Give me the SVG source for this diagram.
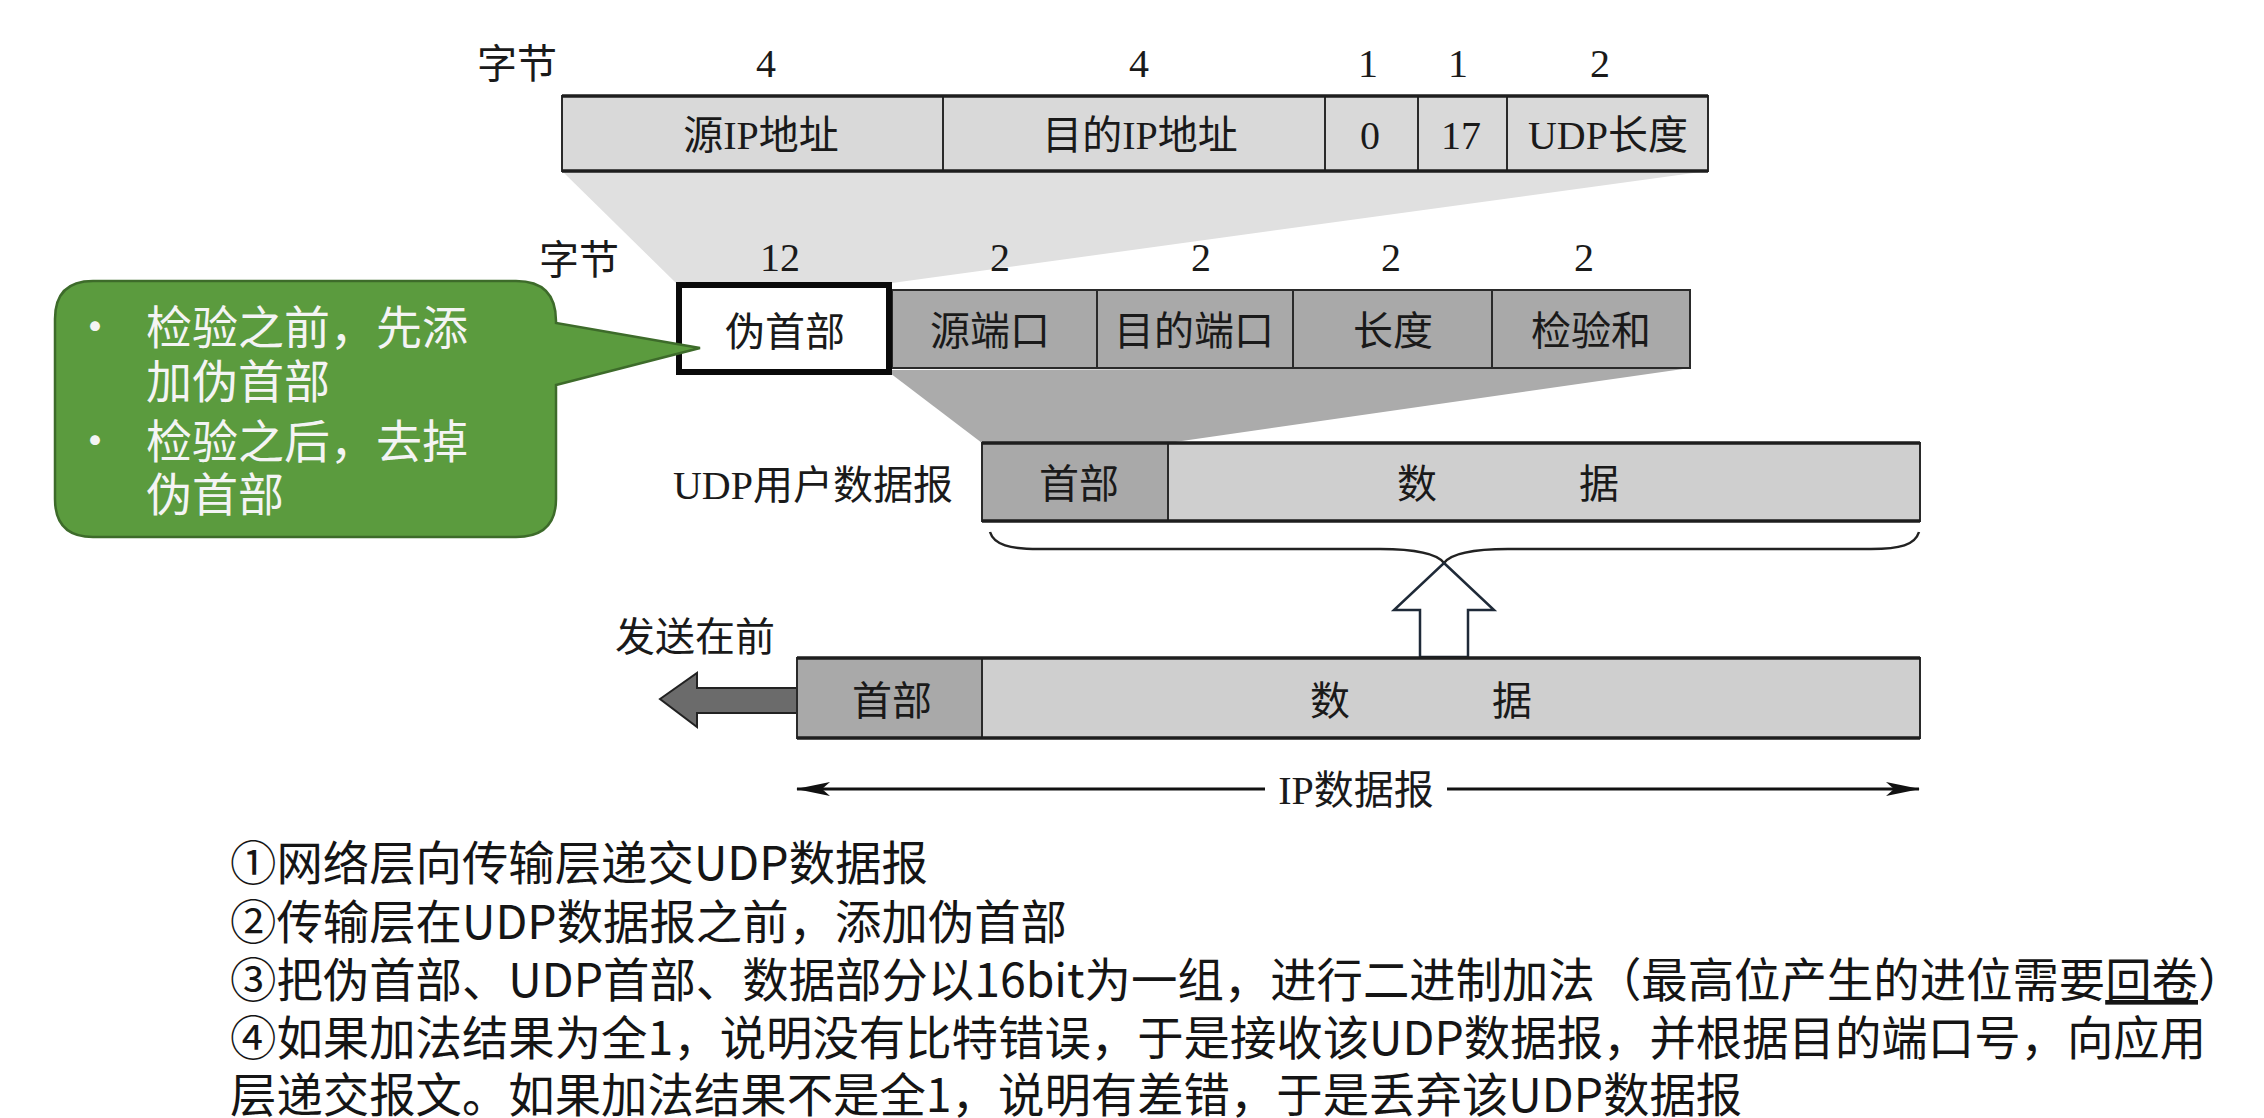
<svg xmlns="http://www.w3.org/2000/svg" width="2264" height="1118" viewBox="0 0 2264 1118">
<style>
.lbl{font-family:'Liberation Serif','Noto Sans CJK SC',serif;font-size:40px;fill:#1a1a1a}
.mid{text-anchor:middle}
.cellL{fill:#d9d9d9;stroke:#2a2a2a;stroke-width:2}
.cellM{fill:#a9a9a9;stroke:#2a2a2a;stroke-width:2}
.cellD{fill:#cfcfcf;stroke:#2a2a2a;stroke-width:2}
.edge{stroke:#1e1e1e;stroke-width:3.5}
.note{font-family:'Noto Sans CJK SC','Noto Sans',sans-serif;font-size:46.4px;fill:#151515}
.bub{font-family:'Noto Sans CJK SC','Noto Sans',sans-serif;font-size:46px;fill:#f4f4f4}
</style>
<defs>
<marker id="stealth" viewBox="0 0 34 14" refX="33" refY="7" markerWidth="34" markerHeight="14" markerUnits="userSpaceOnUse" orient="auto">
<path d="M0,0 L34,7 L0,14 L8,7 Z" fill="#111"/>
</marker>
</defs>
<rect width="2264" height="1118" fill="#ffffff"/>

<g id="connectors">
<polygon points="562,171 1708,171 892,283 676,283" fill="#e0e0e0"/>
<polygon points="886,370 1690,368 1168,443 982,443" fill="#ababab"/>
<path d="M990,532 C994,545 1010,549 1039,549 L1380,549 C1420,549 1438,555 1444,563 C1450,555 1468,549 1508,549 L1871,549 C1900,549 1915,545 1919,532" fill="none" stroke="#222" stroke-width="2.5"/>
<polygon points="1444,563 1494,610 1468,610 1468,657 1420,657 1420,610 1394,610" fill="#ffffff" stroke="#1f2a38" stroke-width="2.5" stroke-linejoin="miter"/>
<polygon points="660,699 697,673 697,688 797,688 797,713 697,713 697,727" fill="#6b6b6b" stroke="#222" stroke-width="2"/>
<line x1="1265" y1="789" x2="797" y2="789" stroke="#111" stroke-width="3" marker-end="url(#stealth)"/>
<line x1="1447" y1="789" x2="1919" y2="789" stroke="#111" stroke-width="3" marker-end="url(#stealth)"/>
</g>

<g id="pseudo-header">
<text class="lbl" x="477" y="78">字节</text>
<text class="lbl mid" x="766" y="77">4</text>
<text class="lbl mid" x="1139" y="77">4</text>
<text class="lbl mid" x="1368" y="77">1</text>
<text class="lbl mid" x="1458" y="77">1</text>
<text class="lbl mid" x="1600" y="77">2</text>
<rect class="cellL" x="562" y="96" width="381" height="75"/>
<rect class="cellL" x="943" y="96" width="382" height="75"/>
<rect class="cellL" x="1325" y="96" width="93" height="75"/>
<rect class="cellL" x="1418" y="96" width="89" height="75"/>
<rect class="cellL" x="1507" y="96" width="201" height="75"/>
<line class="edge" x1="562" y1="96" x2="1708" y2="96"/>
<line class="edge" x1="562" y1="171" x2="1708" y2="171"/>
<text class="lbl mid" x="761" y="149">源IP地址</text>
<text class="lbl mid" x="1140" y="149">目的IP地址</text>
<text class="lbl mid" x="1370" y="149">0</text>
<text class="lbl mid" x="1461" y="149">17</text>
<text class="lbl mid" x="1608" y="149">UDP长度</text>
</g>

<g id="udp-header">
<text class="lbl" x="539" y="274">字节</text>
<text class="lbl mid" x="780" y="271">12</text>
<text class="lbl mid" x="1000" y="271">2</text>
<text class="lbl mid" x="1201" y="271">2</text>
<text class="lbl mid" x="1391" y="271">2</text>
<text class="lbl mid" x="1584" y="271">2</text>
<rect class="cellM" x="892" y="290" width="205" height="78"/>
<rect class="cellM" x="1097" y="290" width="196" height="78"/>
<rect class="cellM" x="1293" y="290" width="199" height="78"/>
<rect class="cellM" x="1492" y="290" width="198" height="78"/>
<rect x="679" y="285" width="210" height="87" fill="#ffffff" stroke="#0a0a0a" stroke-width="6"/>
<text class="lbl mid" x="785" y="346">伪首部</text>
<text class="lbl mid" x="990" y="345">源端口</text>
<text class="lbl mid" x="1194" y="345">目的端口</text>
<text class="lbl mid" x="1393" y="345">长度</text>
<text class="lbl mid" x="1591" y="345">检验和</text>
</g>

<g id="udp-datagram">
<text class="lbl" x="953" y="499" text-anchor="end">UDP用户数据报</text>
<rect class="cellM" x="982" y="443" width="186" height="78"/>
<rect class="cellD" x="1168" y="443" width="752" height="78"/>
<line class="edge" x1="982" y1="443" x2="1920" y2="443" stroke-width="2.5"/>
<line class="edge" x1="982" y1="521" x2="1920" y2="521" stroke-width="2.5"/>
<text class="lbl mid" x="1079" y="498">首部</text>
<text class="lbl mid" x="1417" y="498">数</text>
<text class="lbl mid" x="1599" y="498">据</text>
</g>

<g id="ip-datagram">
<text class="lbl" x="615" y="651">发送在前</text>
<rect class="cellM" x="797" y="658" width="185" height="80"/>
<rect class="cellD" x="982" y="658" width="938" height="80"/>
<line class="edge" x1="797" y1="658" x2="1920" y2="658" stroke-width="2.5"/>
<line class="edge" x1="797" y1="738" x2="1920" y2="738" stroke-width="2.5"/>
<text class="lbl mid" x="892" y="715">首部</text>
<text class="lbl mid" x="1330" y="715">数</text>
<text class="lbl mid" x="1512" y="715">据</text>
<text class="lbl mid" x="1356" y="804">IP数据报</text>
</g>

<g id="callout">
<path d="M93,281 H516 Q556,281 556,321 V323 L700,348 L556,385 V499 Q556,537 516,537 H93 Q55,537 55,499 V319 Q55,281 93,281 Z" fill="#5b9b3e" stroke="#3d6b2a" stroke-width="2.5"/>
<text class="bub mid" x="95" y="343">•</text>
<text class="bub" x="146" y="344">检验之前，先添</text>
<text class="bub" x="146" y="398">加伪首部</text>
<text class="bub mid" x="95" y="457">•</text>
<text class="bub" x="146" y="458">检验之后，去掉</text>
<text class="bub" x="146" y="511">伪首部</text>
</g>

<g id="notes">
<text class="note" x="230" y="880">①网络层向传输层递交UDP数据报</text>
<text class="note" x="230" y="939">②传输层在UDP数据报之前，添加伪首部</text>
<text class="note" x="230" y="997">③把伪首部、UDP首部、数据部分以16bit为一组，进行二进制加法（最高位产生的进位需要<tspan style="text-decoration:underline">回卷</tspan>）</text>
<text class="note" x="230" y="1055">④如果加法结果为全1，说明没有比特错误，于是接收该UDP数据报，并根据目的端口号，向应用</text>
<text class="note" x="230" y="1112">层递交报文。如果加法结果不是全1，说明有差错，于是丢弃该UDP数据报</text>
</g>
</svg>
